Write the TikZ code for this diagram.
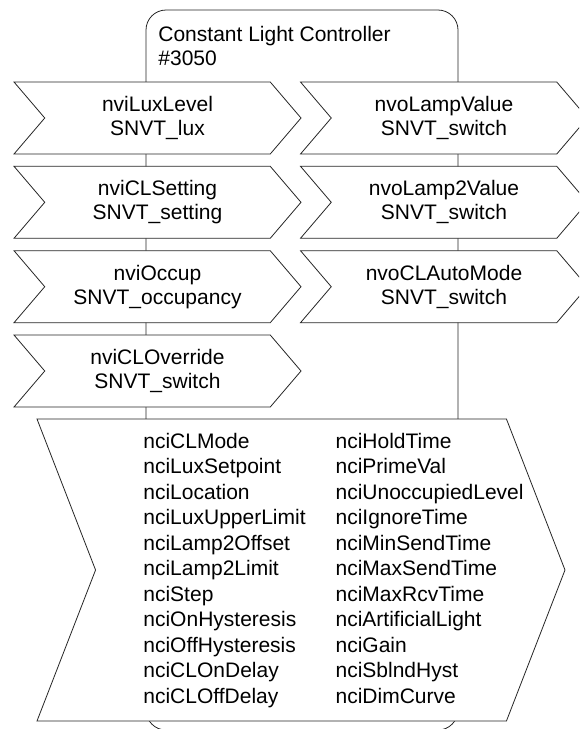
\documentclass[tikz,border=0pt]{standalone}
\usepackage{fontspec}
\setmainfont{Liberation Sans}
\usetikzlibrary{shapes.symbols}

\begin{document}
\begin{tikzpicture}[x=1pt, y=-1pt, line width=0.8pt, draw=black!85,
    every node/.style={font=\fontsize{21}{24}\selectfont},
    chev/.style={draw, fill=white, shape=signal, signal from=west, signal to=east,
        signal pointer angle=99, minimum width=287pt, minimum height=72pt,
        align=center, inner sep=0pt}]
    \clip (0,0) rectangle (579,729);
    % device outline
    \draw[rounded corners=20pt] (146,10) rectangle (458,730);
    \node[anchor=north west, align=left, inner sep=0pt] (title) at (158,25.5)
        {Constant Light Controller\\\#3050};
    % inputs
    \foreach \name/\y/\a/\b in {luxlevel/118/nviLuxLevel/SNVT\_lux,
        clsetting/202.3/nviCLSetting/SNVT\_setting,
        occup/286.7/nviOccup/SNVT\_occupancy,
        cloverride/371/nviCLOverride/SNVT\_switch}
    {
        \node[chev] (\name) at (157.5,\y) {\a\\\b};
    }
    % outputs
    \foreach \name/\y/\a/\b in {lampvalue/118/nvoLampValue/SNVT\_switch,
        lamp2value/202.3/nvoLamp2Value/SNVT\_switch,
        automode/286.7/nvoCLAutoMode/SNVT\_switch}
    {
        \node[chev] (\name) at (444,\y) {\a\\\b};
    }
    % configuration properties
    \node[chev, signal pointer angle=137.6, minimum width=528pt, minimum height=302pt]
        (params) at (301,570) {};
    \node[anchor=west, inner sep=0pt, font=\fontsize{21}{25.5}\selectfont] (paramlist) at (143,570.4) {%
        \begin{tabular}{@{}l@{\hspace{30pt}}l@{}}
            nciCLMode & nciHoldTime\\
            nciLuxSetpoint & nciPrimeVal\\
            nciLocation & nciUnoccupiedLevel\\
            nciLuxUpperLimit & nciIgnoreTime\\
            nciLamp2Offset & nciMinSendTime\\
            nciLamp2Limit & nciMaxSendTime\\
            nciStep & nciMaxRcvTime\\
            nciOnHysteresis & nciArtificialLight\\
            nciOffHysteresis & nciGain\\
            nciCLOnDelay & nciSblndHyst\\
            nciCLOffDelay & nciDimCurve
        \end{tabular}};
\end{tikzpicture}
\end{document}
